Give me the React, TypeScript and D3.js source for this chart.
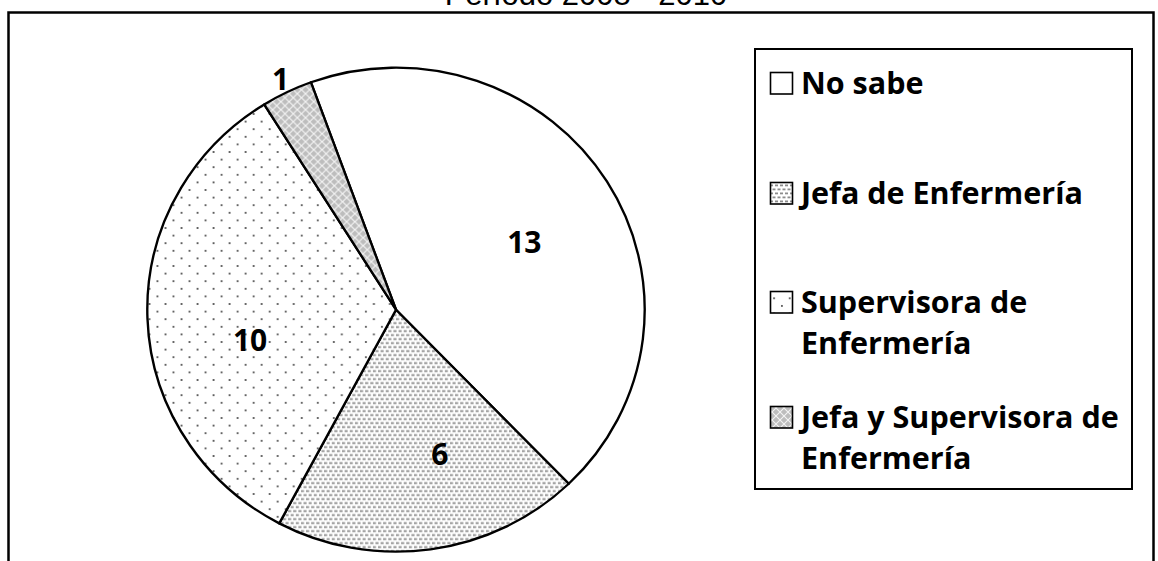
import React from "react";
import * as d3 from "d3";

const title = "Período 2008 - 2010";
const categories = [
  "No sabe",
  "Jefa de Enfermería",
  "Supervisora de Enfermería",
  "Jefa y Supervisora de Enfermería",
];
const values = [13, 6, 10, 1];
const legendLines = [
  ["No sabe"],
  ["Jefa de Enfermería"],
  ["Supervisora de", "Enfermería"],
  ["Jefa y Supervisora de", "Enfermería"],
];
const fills = ["#ffffff", "url(#pJefa)", "url(#pSup)", "url(#pBoth)"];

// layout
const W = 1158;
const H = 561;
const CX = 396;
const CY = 309.7;
const R = 242;
const SX = 1.0277; // slight horizontal stretch of the pie
const START_DEG = -20;
const labelRadius = [145, 145, 145, 256];
const labelNudge: [number, number][] = [
  [2, 9],
  [23, 1],
  [3, 26],
  [0, 0],
];
const legendBox = { x: 755, y: 49, w: 377, h: 440 };
const legendFirstBaseline = [94, 204, 313, 428];
const legendLineGap = 41;
const legendFont = 30.5;
const labelFont = 30;

export default function App() {
  const pie = d3
    .pie<number>()
    .sort(null)
    .value((d) => d)
    .startAngle((START_DEG * Math.PI) / 180)
    .endAngle(((START_DEG + 360) * Math.PI) / 180);
  const arcs = pie(values);
  const arcGen = d3.arc<d3.PieArcDatum<number>>().innerRadius(0).outerRadius(R);

  const labelPos = arcs.map((a, i) => {
    const la = d3
      .arc<d3.PieArcDatum<number>>()
      .innerRadius(labelRadius[i])
      .outerRadius(labelRadius[i]);
    const [x, y] = la.centroid(a);
    return [CX + x * SX + labelNudge[i][0], CY + y + labelNudge[i][1]];
  });

  return (
    <svg
      width={W}
      height={H}
      style={{ position: "absolute", left: 0, top: 0, background: "#fff" }}
    >
      <defs>
        <pattern id="pJefa" width={5} height={8} patternUnits="userSpaceOnUse">
          <rect width={5} height={8} fill="#fff" />
          <rect x={0} y={0.5} width={3} height={1.8} fill="#8c8c8c" />
          <rect x={2.5} y={4.5} width={3} height={1.8} fill="#8c8c8c" />
          <rect x={-2.5} y={4.5} width={3} height={1.8} fill="#8c8c8c" />
        </pattern>
        <pattern id="pSup" width={15.6} height={15.2} patternUnits="userSpaceOnUse">
          <rect width={15.6} height={15.2} fill="#fff" />
          <rect x={1} y={1} width={1.8} height={1.8} fill="#555" />
          <rect x={8.8} y={8.6} width={1.8} height={1.8} fill="#555" />
        </pattern>
        <pattern id="pBoth" width={8} height={8} patternUnits="userSpaceOnUse">
          <rect width={8} height={8} fill="#bdbdbd" />
          <path d="M0,0L8,8M8,0L0,8" stroke="#f4f4f4" strokeWidth={1.1} />
        </pattern>
      </defs>

      {/* outer frame */}
      <rect x={8.5} y={12.5} width={1145} height={600} fill="none" stroke="#000" strokeWidth={2.5} />

      {/* title (cut at top, as in the reference) */}
      <text
        x={586}
        y={5}
        textAnchor="middle"
        fontFamily="'Liberation Sans', Arial, sans-serif"
        fontSize={31}
        fill="#000"
      >
        {title}
      </text>

      {/* pie */}
      <g transform={`translate(${CX},${CY}) scale(${SX},1)`}>
        {arcs.map((a, i) => (
          <path
            key={categories[i]}
            d={arcGen(a) || ""}
            fill={fills[i]}
            stroke="#000"
            strokeWidth={2.3}
            strokeLinejoin="round"
          />
        ))}
      </g>

      {/* data labels */}
      {arcs.map((a, i) => (
        <text
          key={"l" + i}
          x={labelPos[i][0]}
          y={labelPos[i][1] + labelFont * 0.357}
          textAnchor="middle"
          fontFamily="'Open Sans', sans-serif"
          fontWeight="bold"
          fontSize={labelFont}
          fill="#000"
        >
          {values[i]}
        </text>
      ))}

      {/* legend */}
      <rect
        x={legendBox.x}
        y={legendBox.y}
        width={legendBox.w}
        height={legendBox.h}
        fill="#fff"
        stroke="#000"
        strokeWidth={2}
      />
      {categories.map((c, i) => {
        const by = legendFirstBaseline[i];
        return (
          <g key={"lg" + i}>
            <rect
              x={770.5}
              y={by - 21.5}
              width={22}
              height={21.5}
              fill={fills[i]}
              stroke="#000"
              strokeWidth={1.6}
            />
            <text
              x={801}
              y={by}
              fontFamily="'Open Sans', sans-serif"
              fontWeight="bold"
              fontSize={legendFont}
              fill="#000"
            >
              {legendLines[i].map((ln, j) => (
                <tspan key={j} x={801} y={by + j * legendLineGap}>
                  {ln}
                </tspan>
              ))}
            </text>
          </g>
        );
      })}
    </svg>
  );
}
